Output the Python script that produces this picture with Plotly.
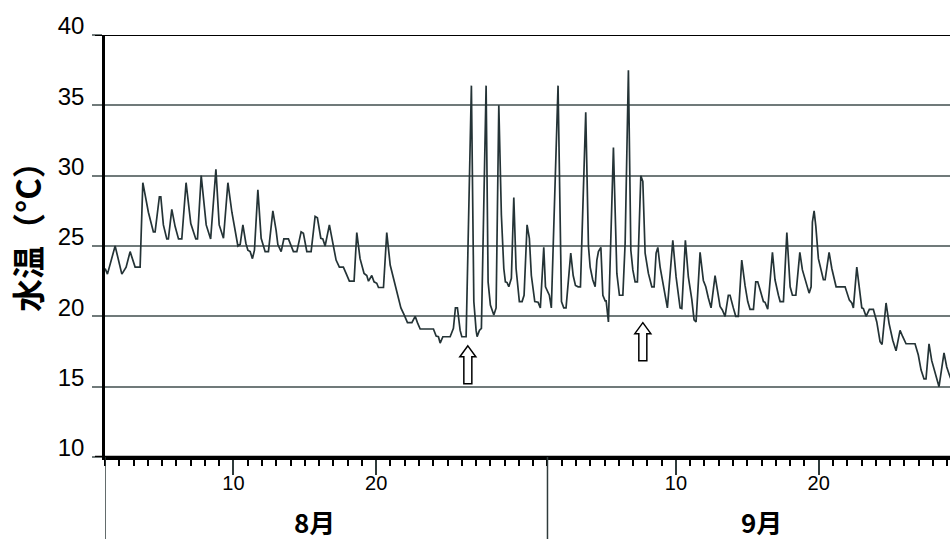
import plotly.graph_objects as go

# ---- data: days since Aug 1 00:00, water temperature (°C) ----
day = [0.01, 0.17, 0.71, 1.18, 1.48, 1.76, 2.11, 2.46, 2.65, 3.04, 3.39, 3.51, 3.81, 3.91, 4.09, 4.33, 4.44,
       4.68, 4.91, 5.15, 5.38, 5.68, 6.01, 6.36, 6.48, 6.74, 7.09, 7.40, 7.77, 8.00, 8.30, 8.61, 8.89, 9.12,
       9.31, 9.47, 9.66, 9.87, 10.01, 10.17, 10.33, 10.47, 10.71, 10.94, 11.22, 11.45, 11.76, 11.99, 12.11,
       12.34, 12.53, 12.85, 13.20, 13.44, 13.74, 13.90, 14.14, 14.44, 14.72, 14.88, 15.12, 15.26, 15.42,
       15.72, 15.96, 16.05, 16.19, 16.42, 16.70, 16.89, 17.12, 17.45, 17.64, 17.87, 18.15, 18.34, 18.46,
       18.69, 18.85, 19.04, 19.16, 19.51, 19.74, 19.98, 20.21, 20.49, 20.73, 20.96, 21.19, 21.50, 21.73,
       21.89, 22.08, 23.01, 23.20, 23.36, 23.48, 23.67, 24.18, 24.41, 24.55, 24.69, 24.88, 25.00, 25.30,
       25.67, 25.84, 26.00, 26.07, 26.23, 26.37, 26.70, 26.84, 27.00, 27.24, 27.40, 27.59, 27.77, 27.94,
       28.05, 28.17, 28.29, 28.47, 28.64, 28.80, 29.03, 29.22, 29.36, 29.57, 29.73, 29.87, 30.11, 30.34,
       30.50, 30.74, 30.86, 31.04, 31.13, 31.27, 31.74, 31.98, 32.14, 32.30, 32.49, 32.63, 32.80, 32.96,
       33.15, 33.31, 33.68, 33.87, 33.99, 34.17, 34.34, 34.46, 34.57, 34.74, 34.88, 35.04, 35.11, 35.27,
       35.62, 35.86, 36.04, 36.28, 36.44, 36.67, 36.84, 36.98, 37.14, 37.30, 37.54, 37.68, 37.84, 38.07,
       38.31, 38.47, 38.61, 38.73, 38.89, 39.12, 39.40, 39.78, 40.01, 40.29, 40.41, 40.66, 40.87, 41.11,
       41.27, 41.41, 41.69, 41.92, 42.09, 42.27, 42.46, 42.74, 42.93, 43.09, 43.25, 43.44, 43.67, 43.79,
       44.02, 44.19, 44.37, 44.61, 44.84, 45.03, 45.19, 45.43, 45.59, 45.73, 45.89, 46.13, 46.24, 46.43,
       46.76, 46.94, 47.18, 47.30, 47.53, 47.77, 48.00, 48.16, 48.40, 48.68, 48.86, 49.10, 49.33, 49.47,
       49.56, 49.68, 49.80, 49.98, 50.10, 50.33, 50.45, 50.73, 50.92, 51.22, 51.85, 52.15, 52.32, 52.43,
       52.67, 52.85, 53.02, 53.13, 53.32, 53.55, 53.83, 54.07, 54.30, 54.44, 54.72, 54.93, 55.19, 55.42,
       55.70, 55.89, 56.12, 56.75, 56.98, 57.17, 57.38, 57.52, 57.73, 57.92, 58.15, 58.43, 58.78, 58.97,
       59.20, 59.41]
temp = [23.4, 23.0, 25.0, 23.0, 23.5, 24.6, 23.5, 23.5, 29.5, 27.4, 26.0, 26.0, 28.5, 28.5, 26.5, 25.5, 25.5,
        27.6, 26.4, 25.5, 25.5, 29.5, 26.6, 25.5, 25.5, 30.0, 26.5, 25.5, 30.45, 26.5, 25.55, 29.5, 27.4, 25.9,
        25.0, 25.1, 26.5, 25.2, 24.7, 24.6, 24.1, 24.7, 29.0, 25.55, 24.6, 24.6, 27.5, 26.1, 25.1,
        24.6, 25.5, 25.5, 24.6, 24.6, 26.0, 25.9, 24.6, 24.6, 27.1, 27.0, 25.55, 25.5, 25.0,
        26.5, 25.2, 24.5, 24.0, 23.5, 23.5, 23.05, 22.5, 22.5, 25.95, 24.1, 23.05, 22.9, 22.5,
        22.9, 22.45, 22.35, 22.05, 22.05, 25.95, 23.65, 22.7, 21.5, 20.6, 20.1, 19.55, 19.55, 20.0,
        19.55, 19.1, 19.1, 18.6, 18.55, 18.1, 18.55, 18.55, 19.15, 20.6, 20.6, 19.0, 18.55, 18.55,
        36.4, 21.05, 19.0, 18.55, 19.0, 19.15, 36.4, 22.45, 20.8, 20.1, 20.6, 35.0, 27.2, 23.4,
        22.45, 22.4, 22.1, 22.7, 28.45, 23.4, 21.05, 21.05, 21.5, 26.5, 25.55, 22.9, 21.05, 21.0,
        20.6, 24.9, 22.1, 21.65, 21.5, 20.6, 36.4, 21.05, 20.6, 20.6, 22.9, 24.5, 22.9, 22.2,
        22.1, 22.1, 34.5, 25.0, 23.5, 22.6, 22.1, 24.0, 24.6, 24.9, 21.5, 21.1, 21.1, 19.6,
        32.0, 23.05, 21.5, 21.5, 25.2, 37.5, 24.7, 23.3, 22.45, 22.45, 30.0, 29.6, 24.5, 23.05,
        22.1, 22.1, 24.5, 24.9, 23.5, 22.1, 20.6, 25.4, 22.8, 20.6, 20.55, 25.4, 22.8, 21.2,
        19.75, 19.6, 24.55, 22.55, 22.1, 21.3, 20.6, 22.9, 21.75, 20.7, 20.45, 20.0, 21.5, 21.5,
        20.6, 20.0, 20.0, 24.0, 22.2, 21.05, 20.5, 20.5, 22.45, 22.45, 21.9, 21.05, 21.0, 20.5,
        24.55, 22.6, 21.5, 21.05, 21.05, 25.95, 22.1, 21.5, 21.5, 24.55, 23.3, 22.45, 21.65, 22.1,
        26.7, 27.5, 26.4, 24.1, 23.65, 22.6, 22.6, 24.55, 23.4, 22.1, 22.1, 21.15, 20.95, 20.6,
        23.5, 21.9, 20.6, 20.55, 20.0, 20.5, 20.5, 19.6, 18.2, 18.0, 20.95, 19.5, 18.3, 17.55,
        19.0, 18.55, 18.05, 18.05, 17.25, 16.2, 15.55, 15.55, 18.05, 16.85, 16.0, 15.0, 17.4, 16.4,
        15.7, 15.2]

y_ticks = [10, 15, 20, 25, 30, 35, 40]
x_major_days = [9, 19, 40, 50]          # Aug 10, Aug 20, Sep 10, Sep 20
x_major_text = ["10", "20", "10", "20"]
month_labels = ["8月", "9月"]
month_label_day = [14.65, 45.96]
month_start_day = [0, 31]
arrow_day = [25.42, 37.68]
arrow_temp = [17.9, 19.55]
y_title = "水温（°C）"

X_MAX = 59.2
LINE = "#243336"
GRID = "#707a7a"

fig = go.Figure()
fig.add_trace(go.Scatter(x=day, y=temp, mode="lines",
                         line=dict(color=LINE, width=1.7), hoverinfo="skip", showlegend=False))

fig.update_layout(
    width=950, height=539,
    margin=dict(l=105, r=0, t=35, b=82),
    paper_bgcolor="white", plot_bgcolor="white",
    showlegend=False,
)
fig.update_xaxes(
    range=[0, X_MAX], showgrid=False, zeroline=False,
    showline=True, linecolor="black", linewidth=2.5,
    tickmode="array", tickvals=x_major_days, ticktext=x_major_text,
    ticks="outside", ticklen=15, tickwidth=1.5, tickcolor="#2f3b3b",
    ticklabelstandoff=-9,
    tickfont=dict(family="Liberation Sans Narrow, Liberation Sans, Arial", size=20, color="black"),
    minor=dict(ticks="outside", dtick=1, tick0=0, ticklen=6, tickwidth=1.5, tickcolor="black", showgrid=False),
)
fig.update_yaxes(
    range=[10, 40], tickvals=y_ticks, ticktext=[str(v) for v in y_ticks],
    showgrid=True, gridcolor=GRID, gridwidth=1.5, zeroline=False,
    showline=True, linecolor="black", linewidth=2.5,
    ticks="outside", ticklen=10, tickwidth=1.5, tickcolor=GRID,
    ticklabelshift=-9, ticklabelstandoff=3,
    tickfont=dict(family="Liberation Sans, Arial", size=24, color="black"),
)

# top border at 40 and bottom tick at 10 in black
for yv in (y_ticks[0], y_ticks[-1]):
    fig.add_shape(type="line", xref="paper", yref="y", x0=-10 / 845, x1=1, y0=yv, y1=yv,
                  line=dict(color="black", width=2 if yv == y_ticks[-1] else 2.5), layer="above")

# month separators extending below the axis
for d in month_start_day:
    fig.add_shape(type="line", xref="x", yref="paper", x0=d, x1=d, y0=-0.2, y1=0,
                  line=dict(color="#2f3b3b", width=1.5), layer="above")

for txt, d in zip(month_labels, month_label_day):
    fig.add_annotation(x=d, y=-0.153, xref="x", yref="paper", text=txt, showarrow=False,
                       xanchor="center", yanchor="middle",
                       font=dict(family="Noto Sans CJK JP", size=26, color="black", weight="bold"))

# hollow up-arrows
arrow_path = "M 0,0 L 8,-11 L 4,-11 L 4,-38 L -4,-38 L -4,-11 L -8,-11 Z"
for d, t in zip(arrow_day, arrow_temp):
    fig.add_shape(type="path", xref="x", yref="y", xsizemode="pixel", ysizemode="pixel",
                  xanchor=d, yanchor=t, path=arrow_path,
                  fillcolor="white", line=dict(color="black", width=1.5), layer="above")

# y axis title
fig.add_annotation(x=-78 / 845, y=0.54, xref="paper", yref="paper", text=y_title,
                   showarrow=False, textangle=-90, xanchor="center", yanchor="middle",
                   font=dict(family="Noto Sans CJK JP", size=33, color="black", weight="bold"))

fig.write_html("out.html", config={"displayModeBar": False},
               post_script="document.body.style.margin='0';document.body.style.overflow='hidden';")
